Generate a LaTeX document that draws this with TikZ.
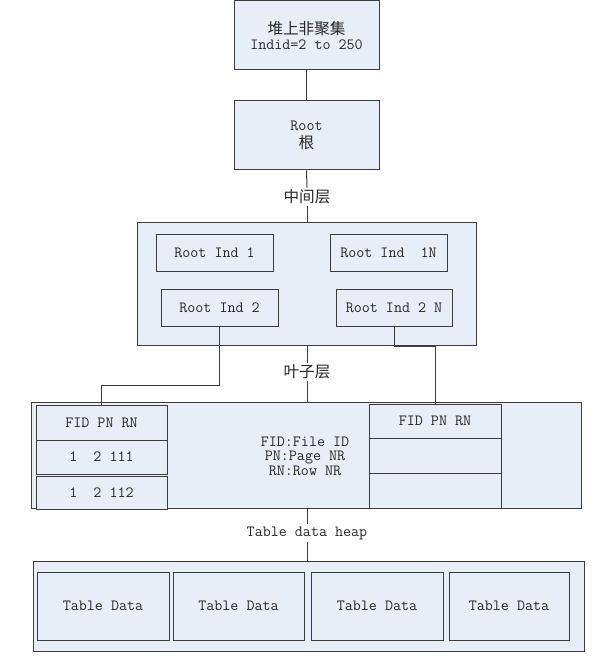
\documentclass[tikz,border=0pt]{standalone}
\usepackage{fontspec}
\newfontfamily\cjk{Noto Sans CJK SC}
\definecolor{boxfill}{RGB}{232,238,247}
\definecolor{edge}{RGB}{60,60,60}
\definecolor{txt}{RGB}{40,40,40}
\begin{document}
\begin{tikzpicture}[x=1pt,y=-1pt,
  every node/.style={font=\fontsize{15.6pt}{16pt}\selectfont\ttfamily, text=txt},
  bx/.style={draw=edge, line width=1pt, fill=boxfill, inner sep=0pt, align=center},
  lbl/.style={inner sep=2pt, fill=white},
  conn/.style={draw=edge, line width=1pt}]
\useasboundingbox (0,0) rectangle (592,663);
% top boxes
\node[bx, minimum width=145pt, minimum height=69pt] (top) at (306.5,35.5)
  {{\cjk 堆上非聚集}\\[-1pt]Indid=2 to 250};
\node[bx, minimum width=145pt, minimum height=69pt] (root) at (306.5,135.5)
  {Root\\[2pt]{\cjk 根}};
\node[lbl] (l1) at (307,197) {\cjk 中间层};
% middle layer
\node[bx, minimum width=339pt, minimum height=123pt] (mid) at (306.5,283.5) {};
\node[bx, minimum width=117pt, minimum height=37pt] (ri1) at (214.5,252.5) {Root Ind 1};
\node[bx, minimum width=117pt, minimum height=37pt] (ri1n) at (388.5,252.5) {Root Ind\ \ 1N};
\node[bx, minimum width=117pt, minimum height=37pt] (ri2) at (219.5,307.5) {Root Ind 2};
\node[bx, minimum width=116pt, minimum height=37pt] (ri2n) at (394,307.5) {Root Ind 2 N};
\node[lbl] (l2) at (307,372) {\cjk 叶子层};
% leaf layer
\node[bx, minimum width=550pt, minimum height=106pt] (leaf) at (306,455) {};
\node[align=center, inner sep=0pt] (legend) at (305,456) {FID:File ID\\[-1.5pt]PN:Page NR\\[-1.5pt]RN:Row NR};
\node[bx, minimum width=131pt, minimum height=35pt] (lt1) at (101.5,422.5) {FID PN RN};
\node[bx, minimum width=131pt, minimum height=34pt] (lt2) at (101.5,457) {1\ \ 2 111};
\node[bx, minimum width=131pt, minimum height=33pt] (lt3) at (101.5,492.5) {1\ \ 2 112};
\node[bx, minimum width=132pt, minimum height=34pt] (rt1) at (435,421) {FID PN RN};
\node[bx, minimum width=132pt, minimum height=35pt] (rt2) at (435,455.5) {};
\node[bx, minimum width=132pt, minimum height=35pt] (rt3) at (435,490.5) {};
\node[lbl] (l3) at (307,533) {Table data heap};
% bottom heap
\node[bx, minimum width=551pt, minimum height=90pt] (bot) at (308.5,606) {};
\node[bx, minimum width=132pt, minimum height=68pt] (td1) at (103,606) {Table Data};
\node[bx, minimum width=131pt, minimum height=68pt] (td2) at (238.5,606) {Table Data};
\node[bx, minimum width=132pt, minimum height=68pt] (td3) at (377,606) {Table Data};
\node[bx, minimum width=120pt, minimum height=68pt] (td4) at (509,606) {Table Data};
% connectors
\coordinate (k1) at (0,385);
\coordinate (k2) at (0,346);
\draw[conn] (top.south) -- (root.north);
\draw[conn] (root.south) -- (l1.north);
\draw[conn] (l1.south) -- (l1.south |- mid.north);
\draw[conn] (mid.south -| l2.north) -- (l2.north);
\draw[conn] (l2.south) -- (l2.south |- leaf.north);
\draw[conn] (ri2.south) -- (ri2.south |- k1) -| (lt1.north);
\draw[conn] (ri2n.south) -- (ri2n.south |- k2) -| (rt1.north);
\draw[conn] (leaf.south -| l3.north) -- (l3.north);
\draw[conn] (l3.south) -- (l3.south |- bot.north);
\end{tikzpicture}
\end{document}
